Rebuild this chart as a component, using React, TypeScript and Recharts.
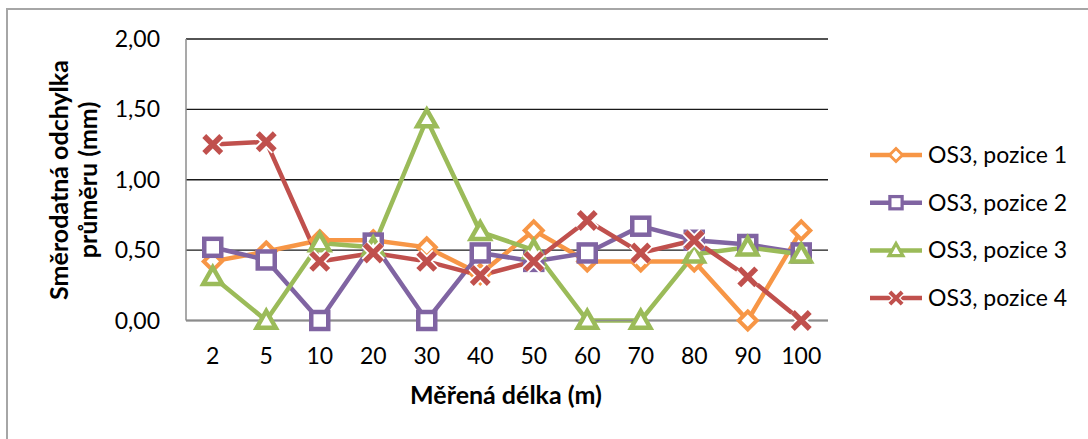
import React from 'react'
import { CartesianGrid, Line, LineChart, XAxis, YAxis } from 'recharts'

// measured lengths (m)
const categories = ['2', '5', '10', '20', '30', '40', '50', '60', '70', '80', '90', '100']

// standard deviation of diameter (mm) per position
const pozice1 = [0.42, 0.49, 0.57, 0.57, 0.52, 0.33, 0.64, 0.42, 0.42, 0.42, 0.0, 0.64]
const pozice2 = [0.52, 0.43, 0.0, 0.55, 0.0, 0.48, 0.42, 0.48, 0.67, 0.57, 0.54, 0.48]
const pozice3 = [0.31, 0.0, 0.55, 0.52, 1.43, 0.63, 0.5, 0.0, 0.0, 0.47, 0.52, 0.47]
const pozice4 = [1.25, 1.27, 0.42, 0.48, 0.42, 0.32, 0.42, 0.71, 0.48, 0.57, 0.31, 0.0]

const yTicks = [0, 0.5, 1, 1.5, 2]

const data = categories.map((name, i) => ({
	name,
	p1: pozice1[i],
	p2: pozice2[i],
	p3: pozice3[i],
	p4: pozice4[i]
}))

const ORANGE = '#F79646'
const PURPLE = '#8064A2'
const GREEN = '#9BBB59'
const RED = '#C0504D'

type Shape = 'diamond' | 'square' | 'triangle' | 'cross'

function Marker({ shape, cx, cy, color, s = 1 }: { shape: Shape; cx: number; cy: number; color: string; s?: number }) {
	if (shape === 'diamond') {
		const r = 9 * s
		return (
			<polygon
				points={`${cx},${cy - r} ${cx + r},${cy} ${cx},${cy + r} ${cx - r},${cy}`}
				fill="#fff"
				stroke={color}
				strokeWidth={4 * s}
			/>
		)
	}
	if (shape === 'square') {
		const h = 8.5 * s
		return (
			<rect
				x={cx - h}
				y={cy - h}
				width={h * 2}
				height={h * 2}
				fill="#fff"
				stroke={color}
				strokeWidth={4.5 * s}
			/>
		)
	}
	if (shape === 'triangle') {
		const r = 9.5 * s
		return (
			<polygon
				points={`${cx},${cy - r} ${cx + r},${cy + r * 0.75} ${cx - r},${cy + r * 0.75}`}
				fill="#fff"
				stroke={color}
				strokeWidth={4.5 * s}
			/>
		)
	}
	const d = 8.5 * s
	const path = `M${cx - d},${cy - d}L${cx + d},${cy + d}M${cx - d},${cy + d}L${cx + d},${cy - d}`
	return (
		<g>
			<path d={path} stroke="#fff" strokeWidth={9 * s} />
			<path d={path} stroke={color} strokeWidth={5.5 * s} />
		</g>
	)
}

const series: { key: string; label: string; color: string; shape: Shape }[] = [
	{ key: 'p1', label: 'OS3, pozice 1', color: ORANGE, shape: 'diamond' },
	{ key: 'p2', label: 'OS3, pozice 2', color: PURPLE, shape: 'square' },
	{ key: 'p3', label: 'OS3, pozice 3', color: GREEN, shape: 'triangle' },
	{ key: 'p4', label: 'OS3, pozice 4', color: RED, shape: 'cross' }
]

const renderDot = (shape: Shape, color: string) => (props: any) => {
	const { cx, cy, index } = props
	if (cx == null || cy == null) return <g key={index} />
	return (
		<g key={index}>
			<Marker
				shape={shape}
				cx={cx}
				cy={cy}
				color={color}
			/>
		</g>
	)
}

const XTick = ({ x, payload }: any) => (
	<text
		x={x}
		y={364}
		textAnchor="middle"
		fontSize={23}
		fill="#000"
	>
		{payload.value}
	</text>
)

const YTick = ({ y, payload }: any) => (
	<text
		x={160}
		y={y + 8}
		textAnchor="end"
		fontSize={23}
		fill="#000"
	>
		{Number(payload.value).toFixed(2).replace('.', ',')}
	</text>
)

// legend drawn beside the plot, one row per series
const LegendBox = () => (
	<svg
		width={226}
		height={190}
		style={{ position: 'absolute', left: 862, top: 132 }}
	>
		{series.map((s, i) => {
			const cy = 23 + i * 47.7
			return (
				<g key={s.key}>
					<line
						x1={8}
						x2={60}
						y1={cy}
						y2={cy}
						stroke={s.color}
						strokeWidth={4.5}
					/>
					<Marker
						shape={s.shape}
						cx={34}
						cy={cy}
						color={s.color}
						s={0.72}
					/>
					<text
						x={66}
						y={cy + 8}
						fontSize={23}
						fill="#000"
					>
						{s.label}
					</text>
				</g>
			)
		})}
	</svg>
)

export default function App() {
	return (
		<div
			style={{
				position: 'absolute',
				left: 0,
				top: 0,
				width: 1088,
				height: 439,
				overflow: 'hidden',
				background: '#fff',
				fontFamily: 'Lato, sans-serif'
			}}
		>
			<div
				style={{
					position: 'absolute',
					left: 6,
					top: 8,
					width: 1100,
					height: 460,
					border: '2px solid #a6a6a6'
				}}
			/>
			<LineChart
				width={1088}
				height={439}
				data={data}
				margin={{ top: 39, right: 260, left: 0, bottom: 88.5 }}
				style={{ position: 'absolute', left: 0, top: 0 }}
			>
				<CartesianGrid
					vertical={false}
					stroke="#1a1a1a"
					strokeWidth={1.3}
				/>
				<XAxis
					dataKey="name"
					height={30}
					padding={{ left: 26.75, right: 26.75 }}
					axisLine={{ stroke: '#8c8c8c', strokeWidth: 1.5 }}
					tickLine={false}
					tick={<XTick />}
					interval={0}
				/>
				<YAxis
					width={186}
					domain={[0, 2]}
					ticks={yTicks}
					axisLine={{ stroke: '#8c8c8c', strokeWidth: 1.5 }}
					tickLine={false}
					tick={<YTick />}
				/>
				{series.map((s) => (
					<Line
						key={s.key}
						type="linear"
						dataKey={s.key}
						name={s.label}
						stroke={s.color}
						strokeWidth={4.5}
						dot={renderDot(s.shape, s.color)}
						activeDot={false}
						isAnimationActive={false}
					/>
				))}
			</LineChart>
			<LegendBox />
			<svg
				width={1088}
				height={439}
				style={{ position: 'absolute', left: 0, top: 0, pointerEvents: 'none' }}
			>
				<text
					transform="rotate(-90)"
					x={-180}
					y={68}
					textAnchor="middle"
					fontSize={25}
					fontWeight="bold"
					fill="#000"
				>
					Směrodatná odchylka
				</text>
				<text
					transform="rotate(-90)"
					x={-180}
					y={97}
					textAnchor="middle"
					fontSize={25}
					fontWeight="bold"
					fill="#000"
				>
					průměru (mm)
				</text>
				<text
					x={506}
					y={404}
					textAnchor="middle"
					fontSize={25}
					fontWeight="bold"
					fill="#000"
				>
					Měřená délka (m)
				</text>
			</svg>
		</div>
	)
}
